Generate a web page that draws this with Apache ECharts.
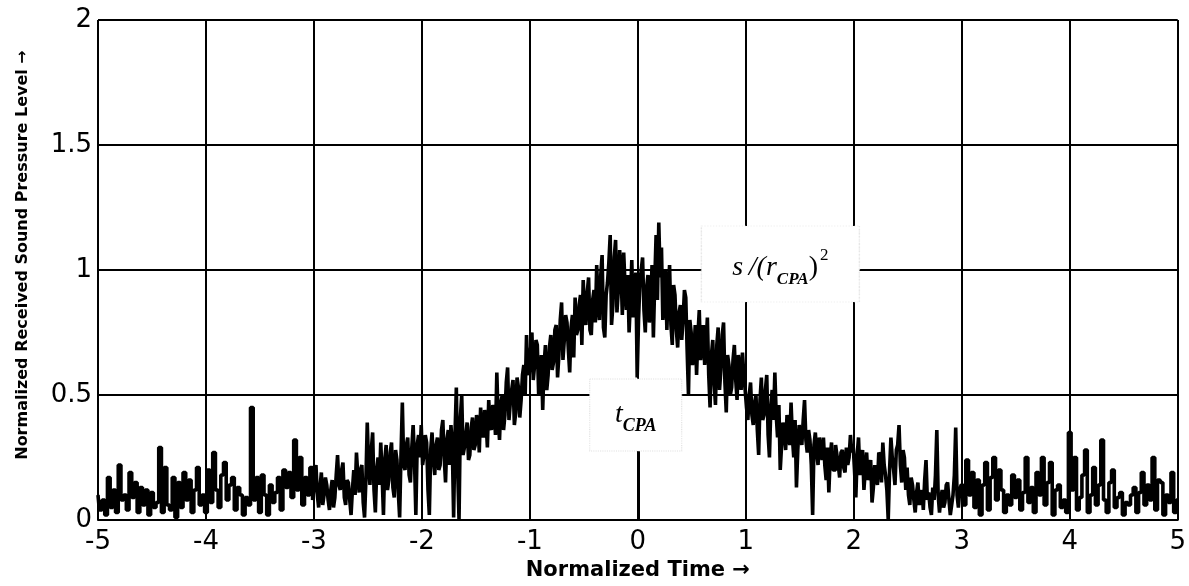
<!DOCTYPE html>
<html>
<head>
<meta charset="utf-8">
<script src="https://cdn.jsdelivr.net/npm/echarts@6/dist/echarts.min.js"></script>
<style>html,body{margin:0;padding:0;background:#fff}#c{width:1189px;height:586px}</style>
</head>
<body>
<div id="c"></div>
<script>
// sample times: start and step of the recorded signal (one segment = one time unit, 40 samples)
var tStart = -5;
var tStep = 0.025;
// normalized received sound pressure level
var segA = [0.10,0.04,0.08,0.02,0.17,0.05,0.12,0.03,0.22,0.08,0.10,0.04,0.19,0.09,0.15,0.03,0.13,0.06,0.12,0.02,0.11,0.05,0.07,0.29,0.03,0.21,0.06,0.04,0.17,0.01,0.15,0.05,0.19,0.08,0.16,0.03,0.12,0.21,0.06,0.10];
var segB = [0.03,0.20,0.07,0.27,0.12,0.05,0.18,0.23,0.08,0.14,0.17,0.04,0.13,0.10,0.02,0.09,0.06,0.45,0.08,0.17,0.03,0.18,0.10,0.02,0.14,0.07,0.11,0.17,0.04,0.20,0.13,0.19,0.09,0.32,0.12,0.25,0.06,0.17,0.10,0.21];
var segC = [0.08,0.22,0.05,0.19,0.10,0.14,0.04,0.16,0.09,0.26,0.12,0.23,0.06,0.15,0.02,0.20,0.27,0.11,0.22,0.01,0.39,0.14,0.35,0.03,0.25,0.31,0.02,0.30,0.16,0.31,0.09,0.24,0.01,0.47,0.20,0.33,0.15,0.38,0.02,0.34];
var segD = [0.38,0.26,0.31,0.02,0.35,0.18,0.33,0.22,0.40,0.15,0.36,0.38,0.01,0.53,0.00,0.50,0.29,0.39,0.26,0.41,0.30,0.38,0.45,0.33,0.40,0.48,0.36,0.44,0.59,0.32,0.50,0.42,0.61,0.47,0.56,0.43,0.53,0.48,0.62,0.74];
var segE = [0.58,0.75,0.62,0.70,0.55,0.44,0.70,0.58,0.74,0.63,0.78,0.66,0.87,0.72,0.79,0.59,0.82,0.89,0.76,0.90,0.96,0.78,0.97,0.74,0.92,1.02,0.80,1.06,0.73,0.95,1.14,0.86,1.12,0.92,1.00,1.07,0.84,0.75,1.04,0.90];
var segF = [0.57,0.95,1.05,0.75,0.98,0.86,0.73,1.14,1.19,1.09,0.88,0.76,1.02,0.70,0.90,0.69,0.86,0.80,0.89,0.50,0.75,0.66,0.58,0.84,0.70,0.62,0.81,0.45,0.72,0.46,0.77,0.60,0.79,0.43,0.62,0.53,0.70,0.48,0.60,0.67];
var segG = [0.52,0.40,0.55,0.38,0.50,0.26,0.57,0.42,0.58,0.25,0.52,0.59,0.33,0.20,0.39,0.28,0.36,0.47,0.25,0.13,0.38,0.30,0.48,0.27,0.32,0.02,0.35,0.22,0.28,0.33,0.16,0.11,0.31,0.20,0.26,0.17,0.28,0.19,0.22,0.34];
var segH = [0.30,0.09,0.33,0.24,0.12,0.27,0.18,0.07,0.22,0.14,0.26,0.31,0.18,0.00,0.33,0.20,0.28,0.38,0.15,0.25,0.21,0.06,0.14,0.03,0.15,0.09,0.04,0.24,0.11,0.02,0.08,0.36,0.03,0.12,0.07,0.15,0.02,0.10,0.37,0.05];
var segI = [0.14,0.06,0.24,0.10,0.19,0.05,0.16,0.02,0.14,0.23,0.04,0.17,0.25,0.08,0.20,0.12,0.03,0.10,0.06,0.18,0.09,0.16,0.04,0.11,0.25,0.07,0.13,0.03,0.19,0.10,0.25,0.06,0.15,0.23,0.02,0.12,0.14,0.05,0.08,0.03];
var segJ = [0.35,0.12,0.25,0.04,0.09,0.18,0.28,0.03,0.10,0.21,0.06,0.14,0.32,0.08,0.03,0.15,0.20,0.05,0.09,0.11,0.02,0.07,0.06,0.10,0.13,0.03,0.11,0.19,0.06,0.14,0.08,0.25,0.04,0.16,0.15,0.02,0.10,0.07,0.19,0.03,0.08];
// extra in-between samples in the dense central part (-3 .. 3), half a step later
var midC = [0.15,0.10,0.13,0.06,0.17,0.08,0.12,0.05,0.18,0.14,0.20,0.09,0.16,0.08,0.12,0.10,0.18,0.20,0.07,0.16,0.22,0.28,0.12,0.20,0.14,0.18,0.24,0.12,0.27,0.13,0.28,0.11,0.26,0.22,0.30,0.18,0.29,0.24,0.30,0.25];
var midD = [0.22,0.34,0.12,0.28,0.24,0.30,0.20,0.36,0.25,0.32,0.22,0.30,0.34,0.20,0.41,0.26,0.34,0.24,0.37,0.28,0.42,0.27,0.36,0.44,0.29,0.38,0.46,0.34,0.40,0.47,0.36,0.55,0.40,0.52,0.38,0.57,0.41,0.58,0.50,0.60];
var midE = [0.68,0.56,0.72,0.50,0.66,0.62,0.52,0.69,0.60,0.76,0.57,0.80,0.64,0.82,0.68,0.77,0.65,0.74,0.86,0.70,0.84,0.91,0.76,0.88,0.79,0.87,0.98,0.77,0.90,1.03,0.78,1.05,0.83,1.08,0.82,0.94,0.98,0.88,0.81,0.99];
var midF = [0.80,1.00,0.84,0.93,0.79,1.02,0.95,0.88,0.97,0.80,1.00,0.92,0.78,0.94,0.76,0.83,0.72,0.92,0.68,0.80,0.62,0.78,0.74,0.64,0.78,0.70,0.58,0.66,0.55,0.70,0.52,0.74,0.55,0.66,0.50,0.64,0.56,0.66,0.52,0.58];
var midG = [0.45,0.50,0.42,0.47,0.36,0.48,0.40,0.52,0.34,0.45,0.40,0.42,0.46,0.30,0.35,0.42,0.30,0.33,0.40,0.28,0.34,0.40,0.32,0.36,0.22,0.30,0.27,0.33,0.24,0.22,0.29,0.25,0.20,0.30,0.22,0.27,0.21,0.29,0.25,0.27];
var midH = [0.20,0.26,0.18,0.28,0.20,0.16,0.24,0.13,0.18,0.27,0.15,0.22,0.12,0.20,0.25,0.14,0.30,0.22,0.28,0.12,0.10,0.17,0.08,0.11,0.06,0.12,0.16,0.08,0.05,0.13,0.18,0.10,0.09,0.05,0.14,0.08,0.06,0.18,0.10,0.12];
var xTicks = [-5,-4,-3,-2,-1,0,1,2,3,4,5];
var yTicks = [0,0.5,1,1.5,2];

var segs = [segA,segB,segC,segD,segE,segF,segG,segH,segI,segJ];
var mids = {2:midC, 3:midD, 4:midE, 5:midF, 6:midG, 7:midH};
var pts = [];
segs.forEach(function(seg,k){
  seg.forEach(function(v,i){
    var t = tStart + (k*40 + i)*tStep;
    pts.push([+t.toFixed(4), v]);
    if (mids[k]) pts.push([+(t + tStep/2).toFixed(4), mids[k][i]]);
  });
});

var chart = echarts.init(document.getElementById('c'), null, {renderer:'canvas'});
var tickFont = {color:'#000', fontFamily:'DejaVu Sans, Arial, sans-serif', fontSize:26};
var serif = 'Liberation Serif, Times New Roman, serif';
chart.setOption({
  animation:false,
  backgroundColor:'#fff',
  grid:{left:98, right:10, top:20, bottom:64, containLabel:false},
  xAxis:{
    type:'value', min:-5, max:5, interval:1,
    axisLine:{show:true, onZero:false, lineStyle:{color:'#000', width:2}},
    axisTick:{show:false},
    axisLabel:Object.assign({margin:9}, tickFont),
    splitLine:{show:true, lineStyle:{color:'#000', width:2}},
    name:'Normalized Time \u2192', nameLocation:'middle', nameGap:40,
    nameTextStyle:{color:'#000', fontFamily:'DejaVu Sans, Arial, sans-serif', fontWeight:'bold', fontSize:21}
  },
  yAxis:{
    type:'value', min:0, max:2, interval:0.5,
    axisLine:{show:true, lineStyle:{color:'#000', width:2}},
    axisTick:{show:false},
    axisLabel:Object.assign({margin:6}, tickFont),
    splitLine:{show:true, lineStyle:{color:'#000', width:2}},
    name:'Normalized Received Sound Pressure Level \u2192', nameLocation:'middle', nameGap:67, nameRotate:90,
    nameTextStyle:{color:'#000', fontFamily:'DejaVu Sans, Arial, sans-serif', fontWeight:'bold', fontSize:16, padding:[0,0,0,30]}
  },
  series:[{
    type:'line', data:pts, showSymbol:false, symbol:'none', step:'middle',
    lineStyle:{color:'#000', width:3.6}, itemStyle:{color:'#000'},
    sampling:null, z:3,
    markLine:{
      silent:true, symbol:'none', label:{show:false},
      lineStyle:{color:'#000', width:3, type:'solid'},
      data:[[{coord:[0,0]},{coord:[0,0.28]}]]
    },
    markPoint:{
      silent:true,
      data:[
        {coord:[1.32,1.024], symbol:'rect', symbolSize:[158,76],
          itemStyle:{color:'#fff', borderColor:'#e0e0e0', borderWidth:1, borderType:'dotted'},
          label:{show:true, position:'inside', offset:[0,4],
            formatter:'{i|s\u2009/(r}{sub|CPA}{n|)}{sup|2}',
            rich:{
              i:{fontFamily:serif, fontStyle:'italic', fontSize:28, color:'#000', verticalAlign:'middle'},
              sub:{fontFamily:serif, fontStyle:'italic', fontWeight:'bold', fontSize:17, color:'#000', verticalAlign:'bottom', padding:[24,0,0,0]},
              n:{fontFamily:serif, fontSize:28, color:'#000', verticalAlign:'middle'},
              sup:{fontFamily:serif, fontSize:17, color:'#000', verticalAlign:'top', padding:[0,0,22,2]}
            }}},
        {coord:[-0.02,0.42], symbol:'rect', symbolSize:[92,72],
          itemStyle:{color:'#fff', borderColor:'#e0e0e0', borderWidth:1, borderType:'dotted'},
          label:{show:true, position:'inside',
            formatter:'{i|t}{sub|CPA}',
            rich:{
              i:{fontFamily:serif, fontStyle:'italic', fontSize:28, color:'#000', verticalAlign:'middle'},
              sub:{fontFamily:serif, fontStyle:'italic', fontWeight:'bold', fontSize:18, color:'#000', verticalAlign:'bottom', padding:[22,0,0,0]}
            }}}
      ]
    }
  }]
});
</script>
</body>
</html>
